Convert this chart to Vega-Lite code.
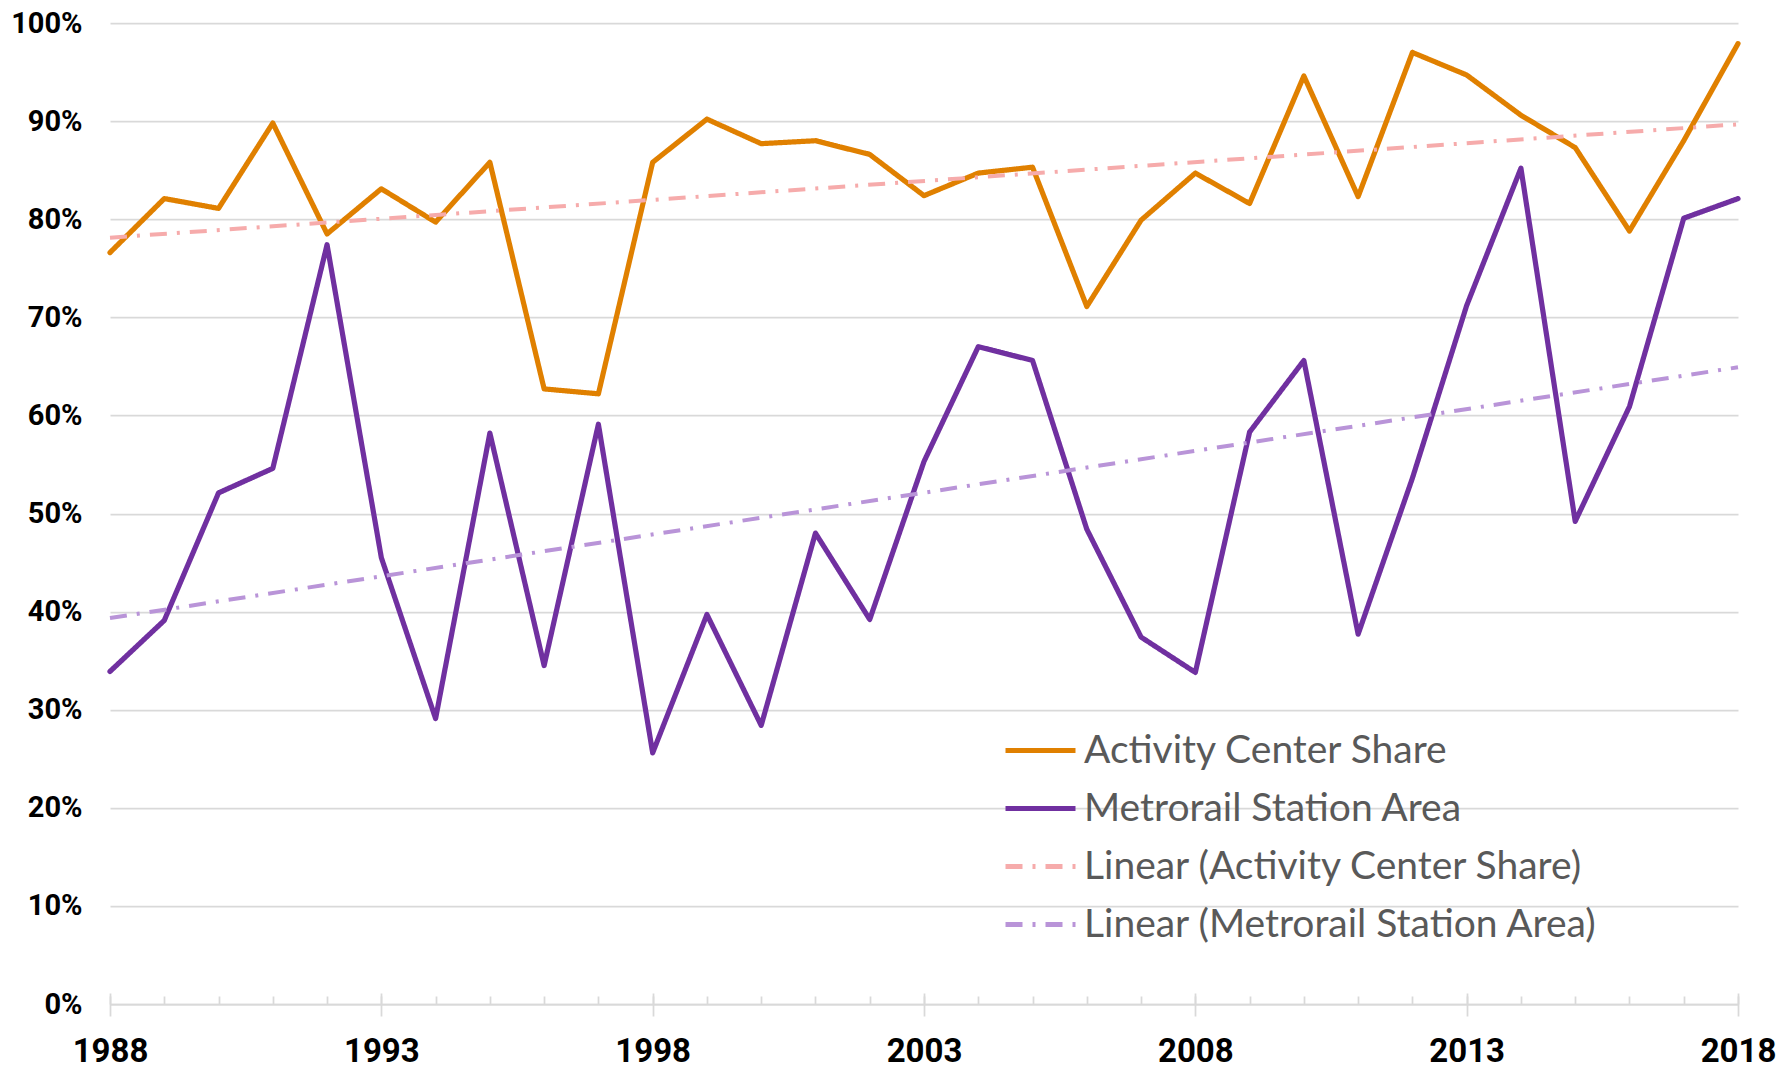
{
  "$schema": "https://vega.github.io/schema/vega-lite/v6.json",
  "width": 1628,
  "height": 981,
  "autosize": {"type": "none"},
  "padding": {"left": 110, "top": 23, "right": 43, "bottom": 64},
  "background": "white",
  "config": {"view": {"stroke": null}},
  "data": {"values": [
    {"year":1988,"series":"Activity Center Share","trend":"Linear (Activity Center Share)","share":0.766},
    {"year":1989,"series":"Activity Center Share","trend":"Linear (Activity Center Share)","share":0.821},
    {"year":1990,"series":"Activity Center Share","trend":"Linear (Activity Center Share)","share":0.811},
    {"year":1991,"series":"Activity Center Share","trend":"Linear (Activity Center Share)","share":0.898},
    {"year":1992,"series":"Activity Center Share","trend":"Linear (Activity Center Share)","share":0.785},
    {"year":1993,"series":"Activity Center Share","trend":"Linear (Activity Center Share)","share":0.831},
    {"year":1994,"series":"Activity Center Share","trend":"Linear (Activity Center Share)","share":0.797},
    {"year":1995,"series":"Activity Center Share","trend":"Linear (Activity Center Share)","share":0.858},
    {"year":1996,"series":"Activity Center Share","trend":"Linear (Activity Center Share)","share":0.627},
    {"year":1997,"series":"Activity Center Share","trend":"Linear (Activity Center Share)","share":0.622},
    {"year":1998,"series":"Activity Center Share","trend":"Linear (Activity Center Share)","share":0.858},
    {"year":1999,"series":"Activity Center Share","trend":"Linear (Activity Center Share)","share":0.902},
    {"year":2000,"series":"Activity Center Share","trend":"Linear (Activity Center Share)","share":0.877},
    {"year":2001,"series":"Activity Center Share","trend":"Linear (Activity Center Share)","share":0.880},
    {"year":2002,"series":"Activity Center Share","trend":"Linear (Activity Center Share)","share":0.866},
    {"year":2003,"series":"Activity Center Share","trend":"Linear (Activity Center Share)","share":0.824},
    {"year":2004,"series":"Activity Center Share","trend":"Linear (Activity Center Share)","share":0.847},
    {"year":2005,"series":"Activity Center Share","trend":"Linear (Activity Center Share)","share":0.853},
    {"year":2006,"series":"Activity Center Share","trend":"Linear (Activity Center Share)","share":0.711},
    {"year":2007,"series":"Activity Center Share","trend":"Linear (Activity Center Share)","share":0.799},
    {"year":2008,"series":"Activity Center Share","trend":"Linear (Activity Center Share)","share":0.847},
    {"year":2009,"series":"Activity Center Share","trend":"Linear (Activity Center Share)","share":0.816},
    {"year":2010,"series":"Activity Center Share","trend":"Linear (Activity Center Share)","share":0.946},
    {"year":2011,"series":"Activity Center Share","trend":"Linear (Activity Center Share)","share":0.823},
    {"year":2012,"series":"Activity Center Share","trend":"Linear (Activity Center Share)","share":0.970},
    {"year":2013,"series":"Activity Center Share","trend":"Linear (Activity Center Share)","share":0.947},
    {"year":2014,"series":"Activity Center Share","trend":"Linear (Activity Center Share)","share":0.906},
    {"year":2015,"series":"Activity Center Share","trend":"Linear (Activity Center Share)","share":0.873},
    {"year":2016,"series":"Activity Center Share","trend":"Linear (Activity Center Share)","share":0.788},
    {"year":2017,"series":"Activity Center Share","trend":"Linear (Activity Center Share)","share":0.880},
    {"year":2018,"series":"Activity Center Share","trend":"Linear (Activity Center Share)","share":0.979},
    {"year":1988,"series":"Metrorail Station Area","trend":"Linear (Metrorail Station Area)","share":0.339},
    {"year":1989,"series":"Metrorail Station Area","trend":"Linear (Metrorail Station Area)","share":0.391},
    {"year":1990,"series":"Metrorail Station Area","trend":"Linear (Metrorail Station Area)","share":0.521},
    {"year":1991,"series":"Metrorail Station Area","trend":"Linear (Metrorail Station Area)","share":0.546},
    {"year":1992,"series":"Metrorail Station Area","trend":"Linear (Metrorail Station Area)","share":0.774},
    {"year":1993,"series":"Metrorail Station Area","trend":"Linear (Metrorail Station Area)","share":0.455},
    {"year":1994,"series":"Metrorail Station Area","trend":"Linear (Metrorail Station Area)","share":0.291},
    {"year":1995,"series":"Metrorail Station Area","trend":"Linear (Metrorail Station Area)","share":0.582},
    {"year":1996,"series":"Metrorail Station Area","trend":"Linear (Metrorail Station Area)","share":0.345},
    {"year":1997,"series":"Metrorail Station Area","trend":"Linear (Metrorail Station Area)","share":0.591},
    {"year":1998,"series":"Metrorail Station Area","trend":"Linear (Metrorail Station Area)","share":0.256},
    {"year":1999,"series":"Metrorail Station Area","trend":"Linear (Metrorail Station Area)","share":0.397},
    {"year":2000,"series":"Metrorail Station Area","trend":"Linear (Metrorail Station Area)","share":0.284},
    {"year":2001,"series":"Metrorail Station Area","trend":"Linear (Metrorail Station Area)","share":0.480},
    {"year":2002,"series":"Metrorail Station Area","trend":"Linear (Metrorail Station Area)","share":0.392},
    {"year":2003,"series":"Metrorail Station Area","trend":"Linear (Metrorail Station Area)","share":0.553},
    {"year":2004,"series":"Metrorail Station Area","trend":"Linear (Metrorail Station Area)","share":0.670},
    {"year":2005,"series":"Metrorail Station Area","trend":"Linear (Metrorail Station Area)","share":0.656},
    {"year":2006,"series":"Metrorail Station Area","trend":"Linear (Metrorail Station Area)","share":0.484},
    {"year":2007,"series":"Metrorail Station Area","trend":"Linear (Metrorail Station Area)","share":0.374},
    {"year":2008,"series":"Metrorail Station Area","trend":"Linear (Metrorail Station Area)","share":0.338},
    {"year":2009,"series":"Metrorail Station Area","trend":"Linear (Metrorail Station Area)","share":0.583},
    {"year":2010,"series":"Metrorail Station Area","trend":"Linear (Metrorail Station Area)","share":0.656},
    {"year":2011,"series":"Metrorail Station Area","trend":"Linear (Metrorail Station Area)","share":0.377},
    {"year":2012,"series":"Metrorail Station Area","trend":"Linear (Metrorail Station Area)","share":0.536},
    {"year":2013,"series":"Metrorail Station Area","trend":"Linear (Metrorail Station Area)","share":0.712},
    {"year":2014,"series":"Metrorail Station Area","trend":"Linear (Metrorail Station Area)","share":0.852},
    {"year":2015,"series":"Metrorail Station Area","trend":"Linear (Metrorail Station Area)","share":0.492},
    {"year":2016,"series":"Metrorail Station Area","trend":"Linear (Metrorail Station Area)","share":0.609},
    {"year":2017,"series":"Metrorail Station Area","trend":"Linear (Metrorail Station Area)","share":0.801},
    {"year":2018,"series":"Metrorail Station Area","trend":"Linear (Metrorail Station Area)","share":0.821}
  ]},
  "resolve": {"axis": {"x": "independent"}},
  "encoding": {
    "y": {
      "field": "share",
      "type": "quantitative",
      "scale": {"domain": [0, 1], "nice": false, "zero": true},
      "axis": {
        "values": [0, 0.1, 0.2, 0.3, 0.4, 0.5, 0.6, 0.7, 0.8, 0.9, 1],
        "format": ".0%",
        "grid": true,
        "gridColor": "#D9D9D9",
        "gridWidth": 1.75,
        "domain": false,
        "ticks": false,
        "tickSize": 0,
        "labelPadding": 28,
        "labelFont": "Roboto",
        "labelFontWeight": "bold",
        "labelFontSize": 29,
        "labelColor": "#000000",
        "title": null
      }
    },
    "color": {
      "field": "series",
      "type": "nominal",
      "scale": {
        "domain": ["Activity Center Share", "Metrorail Station Area", "Linear (Activity Center Share)", "Linear (Metrorail Station Area)"],
        "range": ["#E08000", "#7030A0", "#F6ABAB", "#B994D8"]
      },
      "legend": {
        "title": null,
        "orient": "none",
        "legendX": 893,
        "legendY": 690,
        "padding": 0,
        "symbolType": "stroke",
        "symbolSize": 4900,
        "symbolStrokeWidth": 5,
        "labelOffset": 6,
        "rowPadding": 0,
        "labelFont": "Lato",
        "labelFontSize": 39,
        "labelColor": "#595959",
        "labelLimit": 800
      }
    },
    "strokeDash": {
      "field": "series",
      "type": "nominal",
      "scale": {
        "domain": ["Activity Center Share", "Metrorail Station Area", "Linear (Activity Center Share)", "Linear (Metrorail Station Area)"],
        "range": [[1, 0], [1, 0], [17, 10, 3, 10], [17, 10, 3, 10]]
      }
    }
  },
  "layer": [
    {
      "mark": {"type": "line", "strokeWidth": 5.2, "strokeJoin": "round", "strokeCap": "round"},
      "encoding": {
        "x": {
          "field": "year",
          "type": "quantitative",
          "scale": {"domain": [1988, 2018], "nice": false, "zero": false},
          "axis": {
            "orient": "bottom",
            "values": [1988,1989,1990,1991,1992,1993,1994,1995,1996,1997,1998,1999,2000,2001,2002,2003,2004,2005,2006,2007,2008,2009,2010,2011,2012,2013,2014,2015,2016,2017,2018],
            "labels": false,
            "tickSize": -8,
            "tickColor": "#D9D9D9",
            "tickWidth": 1.75,
            "domain": true,
            "domainColor": "#D9D9D9",
            "domainWidth": 1.75,
            "grid": false,
            "title": null
          }
        }
      }
    },
    {
      "transform": [
        {"regression": "share", "on": "year", "groupby": ["trend"]},
        {"fold": ["trend"], "as": ["kind", "series"]}
      ],
      "mark": {"type": "line", "strokeWidth": 4},
      "encoding": {
        "x": {
          "field": "year",
          "type": "quantitative",
          "axis": {
            "orient": "bottom",
            "values": [1988, 1993, 1998, 2003, 2008, 2013, 2018],
            "format": "d",
            "offset": -11,
            "tickSize": 23,
            "tickColor": "#D9D9D9",
            "tickWidth": 1.75,
            "domain": false,
            "grid": false,
            "labelFont": "Roboto",
            "labelFontWeight": "bold",
            "labelFontSize": 33,
            "labelColor": "#000000",
            "labelPadding": 19,
            "labelFlush": false,
            "labelOverlap": false,
            "labelBound": false,
            "title": null
          }
        }
      }
    }
  ]
}
